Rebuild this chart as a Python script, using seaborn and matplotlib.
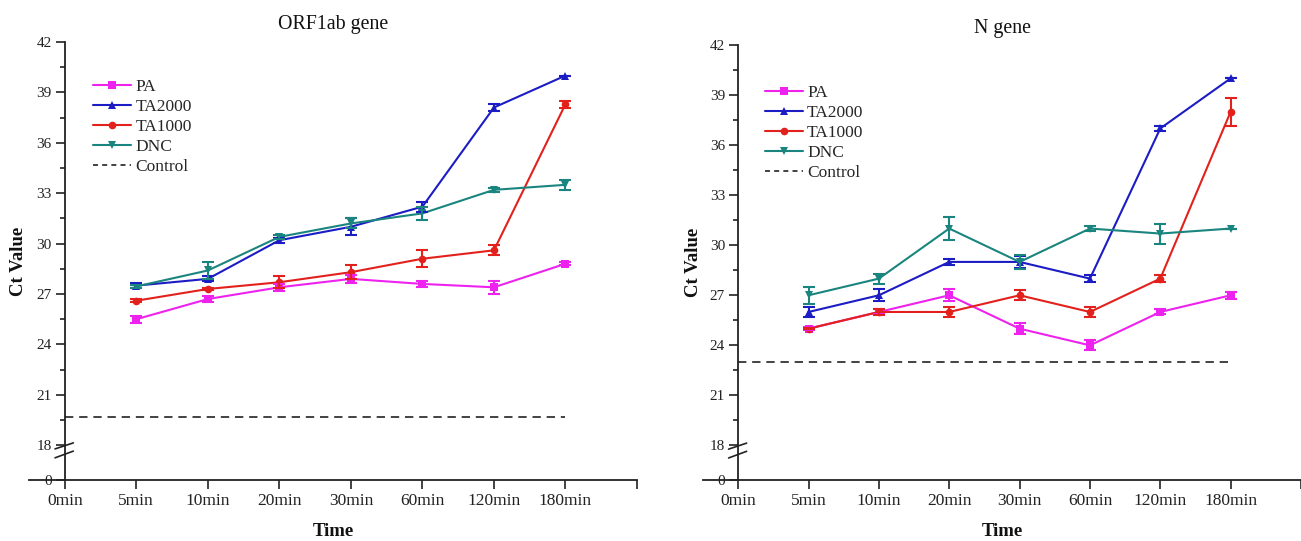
import numpy as np
import pandas as pd
import matplotlib
matplotlib.use("Agg")
import matplotlib.pyplot as plt
import seaborn as sns
from matplotlib.lines import Line2D

# ---------------- data ----------------
categories = ['0min', '5min', '10min', '20min', '30min', '60min', '120min', '180min']
sample_times = ['5min', '10min', '20min', '30min', '60min', '120min', '180min']
series_names = ['PA', 'TA2000', 'TA1000', 'DNC']

# ORF1ab gene
orf_pa = [25.5, 26.7, 27.4, 27.9, 27.6, 27.4, 28.8]
orf_pa_err = [0.2, 0.2, 0.2, 0.25, 0.2, 0.4, 0.1]
orf_ta2000 = [27.5, 27.9, 30.2, 31.0, 32.2, 38.1, 40.0]
orf_ta2000_err = [0.15, 0.15, 0.15, 0.5, 0.3, 0.2, 0.0]
orf_ta1000 = [26.6, 27.3, 27.7, 28.3, 29.1, 29.6, 38.3]
orf_ta1000_err = [0.1, 0.05, 0.35, 0.4, 0.5, 0.3, 0.2]
orf_dnc = [27.45, 28.4, 30.4, 31.2, 31.8, 33.2, 33.5]
orf_dnc_err = [0.1, 0.5, 0.1, 0.3, 0.4, 0.1, 0.3]
orf_control = 19.7

# N gene
n_pa = [25.0, 26.0, 27.0, 25.0, 24.0, 26.0, 27.0]
n_pa_err = [0.1, 0.15, 0.35, 0.35, 0.3, 0.15, 0.2]
n_ta2000 = [26.0, 27.0, 29.0, 29.0, 28.0, 37.0, 40.0]
n_ta2000_err = [0.3, 0.35, 0.2, 0.35, 0.2, 0.15, 0.0]
n_ta1000 = [25.0, 26.0, 26.0, 27.0, 26.0, 28.0, 38.0]
n_ta1000_err = [0.05, 0.2, 0.3, 0.3, 0.3, 0.2, 0.85]
n_dnc = [27.0, 28.0, 31.0, 29.0, 31.0, 30.7, 31.0]
n_dnc_err = [0.5, 0.3, 0.7, 0.4, 0.15, 0.6, 0.0]
n_control = 23.0

y_major = [18, 21, 24, 27, 30, 33, 36, 39, 42]
y_minor = [19.5, 22.5, 25.5, 28.5, 31.5, 34.5, 37.5, 40.5]
y_bottom = 15.93   # position of the broken-axis "0"

# ---------------- style ----------------
sns.set_theme(style="ticks")
plt.rcParams['font.family'] = ['Liberation Serif', 'DejaVu Serif']
plt.rcParams['axes.unicode_minus'] = False

palette = {'PA': '#EE22EE', 'TA2000': '#1C1CC4', 'TA1000': '#E3211C', 'DNC': '#1A857E'}
markers = {'PA': 's', 'TA2000': '^', 'TA1000': 'o', 'DNC': 'v'}


def draw(ax, title, means, errs, control):
    rows = []
    for name in series_names:
        for c, v, e in zip(sample_times, means[name], errs[name]):
            rows.append(dict(pos=categories.index(c), ct=v, err=e, series=name))
    df = pd.DataFrame(rows)

    sns.lineplot(data=df, x='pos', y='ct', hue='series', style='series',
                 hue_order=series_names, style_order=series_names,
                 palette=palette, markers=markers, dashes=False,
                 markersize=5.5, markeredgewidth=0, linewidth=1.5,
                 legend=False, ax=ax, zorder=3)
    for name in series_names:
        sub = df[df.series == name]
        ax.errorbar(sub.pos, sub.ct, yerr=sub.err, fmt='none',
                    ecolor=palette[name], elinewidth=1.5, capsize=4.5,
                    capthick=1.5, zorder=3)

    # control dashed line from 0min to 180min
    x0 = categories.index('0min')
    x1 = categories.index('180min')
    ax.plot([x0, x1], [control, control], color='#222222', lw=1.2,
            ls=(0, (5, 3.5)), zorder=2)

    ax.set_xlim(-0.5, 8)
    ax.set_ylim(y_bottom, 42)

    ax.set_xticks(list(range(len(categories))) + [8])
    ax.set_xticklabels(categories + [''], fontsize=12.5)
    ax.set_yticks([y_bottom] + y_major)
    ax.set_yticklabels(['0'] + [str(v) for v in y_major], fontsize=12.5)
    ax.set_yticks(y_minor, minor=True)

    ax.tick_params(axis='x', direction='out', length=6.5, width=1.2,
                   pad=3, colors='#222222')
    ax.tick_params(axis='y', which='major', direction='out', length=6.5,
                   width=1.2, pad=3, colors='#222222')
    ax.tick_params(axis='y', which='minor', direction='out', length=3.5,
                   width=1.2, colors='#222222')

    for s in ['top', 'right']:
        ax.spines[s].set_visible(False)
    ax.spines['left'].set_position(('data', 0))
    for s in ['left', 'bottom']:
        ax.spines[s].set_linewidth(1.3)
        ax.spines[s].set_color('#222222')

    # axis-break slashes
    for ya, yb in [(17.78, 18.14), (17.25, 17.65)]:
        ax.plot([-0.136, 0.12], [ya, yb], color='#222222', lw=1.2,
                clip_on=False, zorder=4)

    ax.set_title(title, fontsize=14.3, pad=9, color='#111111')
    ax.set_xlabel('Time', fontsize=13.5, fontweight='bold', color='#111111')
    ax.set_ylabel('Ct Value', fontsize=13.5, fontweight='bold', color='#111111')
    ax.xaxis.set_label_coords(0.5, -0.098)

    handles = [Line2D([], [], color=palette[n], marker=markers[n], lw=1.5,
                      ms=5.5, markeredgewidth=0) for n in series_names]
    handles.append(Line2D([], [], color='#222222', lw=1.2, ls=(0, (3, 2.5))))
    return handles


fig = plt.figure(figsize=(13.01, 5.41), dpi=100)
axL = fig.add_axes([29 / 1301, 61 / 541, 608 / 1301, 438 / 541])
axR = fig.add_axes([703 / 1301, 61 / 541, 598 / 1301, 435 / 541])

h = draw(axL, 'ORF1ab gene',
         {'PA': orf_pa, 'TA2000': orf_ta2000, 'TA1000': orf_ta1000, 'DNC': orf_dnc},
         {'PA': orf_pa_err, 'TA2000': orf_ta2000_err, 'TA1000': orf_ta1000_err, 'DNC': orf_dnc_err},
         orf_control)
axL.yaxis.set_label_coords(-0.003, 0.5)
axL.legend(h, series_names + ['Control'], loc='upper left',
           bbox_to_anchor=(0.105, 0.915), frameon=False, fontsize=12.5,
           handlelength=2.2, handletextpad=0.25, labelspacing=0.22,
           borderpad=0, borderaxespad=0)

h = draw(axR, 'N gene',
         {'PA': n_pa, 'TA2000': n_ta2000, 'TA1000': n_ta1000, 'DNC': n_dnc},
         {'PA': n_pa_err, 'TA2000': n_ta2000_err, 'TA1000': n_ta1000_err, 'DNC': n_dnc_err},
         n_control)
axR.yaxis.set_label_coords(-0.002, 0.5)
axR.legend(h, series_names + ['Control'], loc='upper left',
           bbox_to_anchor=(0.103, 0.908), frameon=False, fontsize=12.5,
           handlelength=2.2, handletextpad=0.25, labelspacing=0.22,
           borderpad=0, borderaxespad=0)

fig.savefig('out.png', dpi=100)
